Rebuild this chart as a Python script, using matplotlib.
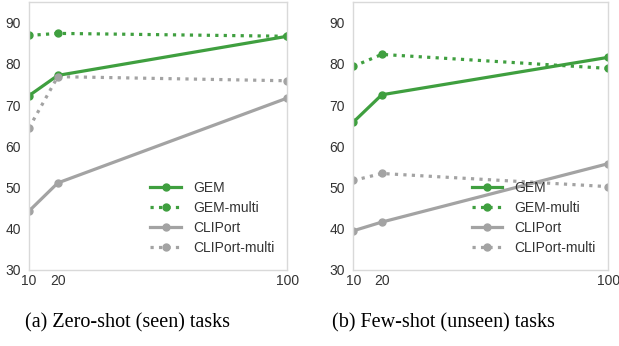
import matplotlib
matplotlib.use("Agg")
import matplotlib.pyplot as plt

# shots per task
shots = [10, 20, 100]

# (a) zero-shot, seen tasks
seen_gem = [72.3, 77.2, 86.7]
seen_gem_multi = [86.9, 87.4, 86.7]
seen_cliport = [44.3, 51.1, 71.7]
seen_cliport_multi = [64.5, 76.9, 75.9]

# (b) few-shot, unseen tasks
unseen_gem = [65.9, 72.5, 81.6]
unseen_gem_multi = [79.4, 82.3, 78.9]
unseen_cliport = [39.5, 41.6, 55.8]
unseen_cliport_multi = [51.7, 53.4, 50.2]

labels = ["GEM", "GEM-multi", "CLIPort", "CLIPort-multi"]
captions = ["(a) Zero-shot (seen) tasks", "(b) Few-shot (unseen) tasks"]
yticks = [30, 40, 50, 60, 70, 80, 90]

GREEN = "#3f9f3f"
GREY = "#a3a3a3"
styles = [(GREEN, "-"), (GREEN, ":"), (GREY, "-"), (GREY, ":")]

fig = plt.figure(figsize=(6.19, 3.46), dpi=100)
ax_l = fig.add_axes([0.047, 0.22, 0.417, 0.774])
ax_r = fig.add_axes([0.571, 0.22, 0.412, 0.774])

panels = [
    (ax_l, [seen_gem, seen_gem_multi, seen_cliport, seen_cliport_multi]),
    (ax_r, [unseen_gem, unseen_gem_multi, unseen_cliport, unseen_cliport_multi]),
]

for ax, series in panels:
    for vals, (c, ls), lab in zip(series, styles, labels):
        ax.plot(shots, vals, color=c, linestyle=ls, linewidth=2.3,
                marker="o", markersize=5, label=lab)
    ax.set_xlim(10, 100)
    ax.set_ylim(30, 95)
    ax.set_xticks(shots)
    ax.set_yticks(yticks)
    for s in ax.spines.values():
        s.set_color("#d9d9d9")
        s.set_linewidth(1.0)
    ax.tick_params(axis="x", length=0, labelsize=10, colors="#333333", pad=3)
    ax.tick_params(axis="y", length=0, labelsize=10, colors="#333333", pad=6)
    for t in ax.get_xticklabels() + ax.get_yticklabels():
        t.set_fontfamily("Liberation Sans")
    leg = ax.legend(loc="lower right", bbox_to_anchor=(1.0, 0.01), frameon=False,
                    prop={"family": "Liberation Sans", "size": 10},
                    handlelength=2.2, handletextpad=0.9, labelspacing=0.42)
    for t in leg.get_texts():
        t.set_color("#333333")

fig.text(0.206, 0.067, captions[0], ha="center", va="center",
         family="Liberation Serif", fontsize=14.5)
fig.text(0.716, 0.067, captions[1], ha="center", va="center",
         family="Liberation Serif", fontsize=14.5)

fig.savefig("out.png", dpi=100)
